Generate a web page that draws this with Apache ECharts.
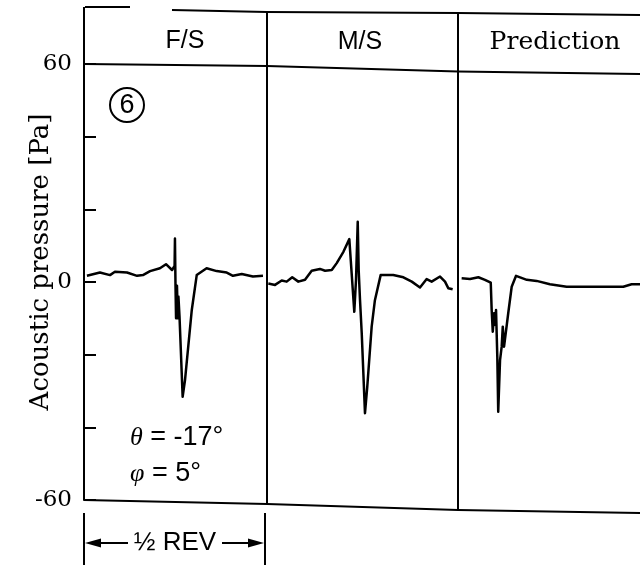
<!DOCTYPE html>
<html>
<head>
<meta charset="utf-8">
<script src="https://cdn.jsdelivr.net/npm/echarts@6/dist/echarts.min.js"></script>
<style>html,body{margin:0;padding:0;background:#fff;}#chart{width:640px;height:565px;}</style>
</head>
<body>
<div id="chart"></div>
<script>
// Panel titles
const panelTitles = ['F/S', 'M/S', 'Prediction'];
// Y-axis labelled ticks (Pa)
const yLabelValues = [-60, 0, 60];
// x in % of half revolution, y in Pa
const fsX = [1.6, 8.7, 14.2, 16.9, 23.5, 29.0, 32.2, 36.1, 41.5, 44.8, 48.1, 49.5, 49.7, 50.0, 50.3, 50.8, 51.3, 51.6, 52.2, 53.9, 55.2, 58.9, 61.6, 67.0, 72.5, 78.0, 81.4, 86.2, 92.3, 97.8];
const fsY = [1.7, 2.6, 1.9, 2.8, 2.6, 1.7, 1.9, 3.0, 3.8, 4.9, 3.3, 4.4, 12.0, -1.0, -10.0, -1.0, -10.0, -4.0, -9.6, -31.6, -27.0, -7.7, 1.9, 3.8, 3.0, 2.6, 1.7, 2.2, 1.5, 1.7];
const msX = [0.7, 4.2, 7.7, 10.3, 13.2, 16.4, 19.9, 23.4, 27.7, 30.4, 33.9, 36.5, 40.0, 43.1, 45.7, 46.6, 47.5, 48.0, 48.7, 49.6, 51.3, 52.5, 54.8, 56.5, 59.5, 66.1, 71.4, 75.8, 80.1, 83.6, 86.2, 90.6, 93.2, 94.9, 97.2];
const msY = [-0.4, -0.8, 0.4, 0.1, 1.3, 0.1, 0.6, 3.1, 3.6, 3.1, 3.3, 5.2, 8.3, 11.8, -8.2, 0.6, 16.6, 3.3, -5.0, -14.1, -36.1, -28.8, -12.3, -5.0, 1.9, 1.9, 1.3, 0.1, -1.5, 0.8, 0.1, 1.5, 0.1, -1.7, -2.0];
const predX = [2.0, 6.6, 11.2, 14.8, 18.0, 18.5, 19.1, 19.8, 20.3, 20.9, 21.6, 22.1, 23.1, 24.0, 24.6, 25.3, 27.6, 29.5, 31.9, 37.8, 43.2, 50.5, 59.7, 74.3, 90.8, 95.4, 100];
const predY = [1.0, 0.8, 1.3, 0.6, -0.2, -7.7, -13.7, -8.6, -11.8, -7.7, -20.6, -35.7, -21.5, -17.8, -12.3, -17.8, -8.6, -1.3, 1.7, 0.6, 0.3, -0.6, -1.3, -1.3, -1.3, -0.6, -0.6];

const INK = '#000';
const zip = (xs, ys) => xs.map((x, i) => [x, ys[i]]);
const chart = echarts.init(document.getElementById('chart'), null, {renderer: 'canvas'});

const grids = [
  {left: 84, top: 64, width: 183, height: 436},
  {left: 267, top: 64, width: 191, height: 436},
  {left: 458, top: 64, width: 182, height: 436}
];
const xAxes = grids.map((g, i) => ({gridIndex: i, type: 'value', min: 0, max: 100, show: false}));
const yAxes = grids.map((g, i) => ({
  gridIndex: i, type: 'value', min: -60, max: 60, interval: 20,
  show: true,
  axisLine: {show: i === 0, lineStyle: {color: INK, width: 2}},
  axisTick: {show: i === 0, inside: true, length: 12, lineStyle: {color: INK, width: 2}},
  splitLine: {show: false},
  axisLabel: {
    show: i === 0, margin: 12, color: INK,
    fontFamily: 'DejaVu Serif', fontSize: 23,
    formatter: v => yLabelValues.includes(v) ? String(v) : ''
  }
}));
const seriesData = [zip(fsX, fsY), zip(msX, msY), zip(predX, predY)];
const series = seriesData.map((d, i) => ({
  type: 'line', xAxisIndex: i, yAxisIndex: i, data: d,
  showSymbol: false, symbol: 'none', smooth: false,
  lineStyle: {color: INK, width: 2.5, join: 'round'}, silent: true
}));

function txt(x, y, text, font, extra) {
  return Object.assign({
    type: 'text', x: x, y: y, silent: true,
    style: Object.assign({text: text, font: font, fill: INK,
      align: 'center', verticalAlign: 'middle', textAlign: 'center', textVerticalAlign: 'middle'}, extra || {})
  });
}
function pl(points, w) {
  return {type: 'polyline', silent: true, shape: {points: points}, style: {stroke: INK, lineWidth: w || 2, fill: null}};
}
function poly(points) {
  return {type: 'polygon', silent: true, shape: {points: points}, style: {fill: INK}};
}

const graphic = [
  // frame
  pl([[85, 7], [130, 7]]),
  pl([[172, 10], [267, 12], [458, 13], [640, 15]]),
  pl([[84, 64], [267, 66], [458, 71.5], [640, 74]]),
  pl([[84, 500], [267, 504], [458, 510], [640, 513]]),
  pl([[84, 7], [84, 64]]),
  pl([[267, 11], [267, 504]]),
  pl([[458, 13], [458, 510]]),
  // headers
  txt(185, 41, panelTitles[0], '25px "Liberation Sans"'),
  txt(360, 42, panelTitles[1], '25px "Liberation Sans"'),
  txt(555, 42, panelTitles[2], '25px "DejaVu Serif"'),
  // y-axis name
  Object.assign(txt(41, 262, 'Acoustic pressure [Pa]', '26px "DejaVu Serif"'), {rotation: Math.PI / 2}),
  // circled 6
  {type: 'circle', silent: true, shape: {cx: 127, cy: 105, r: 17}, style: {stroke: INK, lineWidth: 2, fill: null}},
  txt(127, 106, '6', '27px "Liberation Sans"'),
  // angles
  txt(130, 438, '{it|θ} = -17°', '27px "Liberation Sans"', {align: 'left', textAlign: 'left',
    rich: {it: {fontStyle: 'italic', fontFamily: 'Liberation Serif', fontSize: 26, fill: INK}}}),
  txt(130, 474, '{it|φ} = 5°', '27px "Liberation Sans"', {align: 'left', textAlign: 'left',
    rich: {it: {fontStyle: 'italic', fontFamily: 'Liberation Serif', fontSize: 26, fill: INK}}}),
  // half rev marker
  pl([[84, 513], [84, 565]]),
  pl([[265, 513], [265, 565]]),
  pl([[96, 543], [128, 543]]),
  poly([[85, 543], [101, 538.5], [101, 547.5]]),
  pl([[222, 543], [252, 543]]),
  poly([[264, 543], [248, 538.5], [248, 547.5]]),
  txt(175, 543, '½ REV', '26px "Liberation Sans"')
];

chart.setOption({
  animation: false,
  backgroundColor: '#fff',
  grid: grids,
  xAxis: xAxes,
  yAxis: yAxes,
  series: series,
  graphic: graphic
});
</script>
</body>
</html>
